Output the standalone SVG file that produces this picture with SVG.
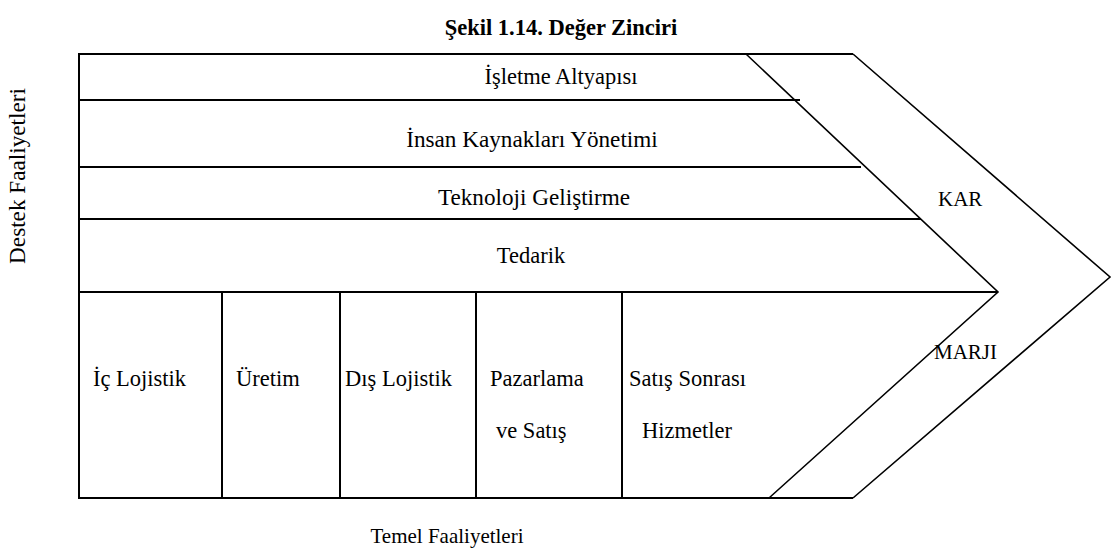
<svg xmlns="http://www.w3.org/2000/svg" width="1115" height="549" viewBox="0 0 1115 549">
<style>
text{font-family:"Liberation Serif","Times New Roman",serif;fill:#000}
.t{font-size:22.5px}
.b{font-size:23.2px}
.s{font-size:21px}
.c{text-anchor:middle}
.ttl{font-size:22.5px;font-weight:bold;text-anchor:middle}
.ln{stroke:#000;stroke-width:2;fill:none}
.dg{stroke:#000;stroke-width:1.6;fill:none}
</style>
<rect width="1115" height="549" fill="#fff"/>
<text class="ttl" x="561" y="35">Şekil 1.14. Değer Zinciri</text>
<g id="frame">
<path class="ln" d="M853,54 H79 V498 H853"/>
<path class="dg" d="M853,54 L1110,277 L853,498"/>
<path class="dg" d="M746,54 L998,292 L769,498"/>
<path class="ln" d="M79,100 H800 M79,167 H861 M79,219 H921 M79,292 H998"/>
<path class="ln" d="M222,292 V498 M340,292 V498 M476,292 V498 M622,292 V498"/>
</g>
<g id="isletme"><text class="t c" x="561" y="84">İşletme Altyapısı</text></g>
<g id="insan"><text class="b c" x="532" y="147">İnsan Kaynakları Yönetimi</text></g>
<g id="teknoloji"><text class="b c" x="534" y="205">Teknoloji Geliştirme</text></g>
<g id="tedarik"><text class="t c" x="531" y="263">Tedarik</text></g>
<g id="kar"><text class="s" x="938" y="206">KAR</text></g>
<g id="marji"><text class="s" x="934" y="359">MARJI</text></g>
<g id="iclojistik"><text class="t" x="93" y="386">İç Lojistik</text></g>
<g id="uretim"><text class="t" x="236" y="386">Üretim</text></g>
<g id="dislojistik"><text class="t" x="345" y="386">Dış Lojistik</text></g>
<g id="pazarlama"><text class="t" x="490" y="386">Pazarlama</text><text class="t" x="496" y="438">ve Satış</text></g>
<g id="satissonrasi"><text class="t" x="629" y="386">Satış Sonrası</text><text class="t" x="642" y="438">Hizmetler</text></g>
<g id="destek"><text class="b c" transform="translate(25,176) rotate(-90)">Destek  Faaliyetleri</text></g>
<g id="temel"><text class="s c" x="447" y="543">Temel Faaliyetleri</text></g>
</svg>
